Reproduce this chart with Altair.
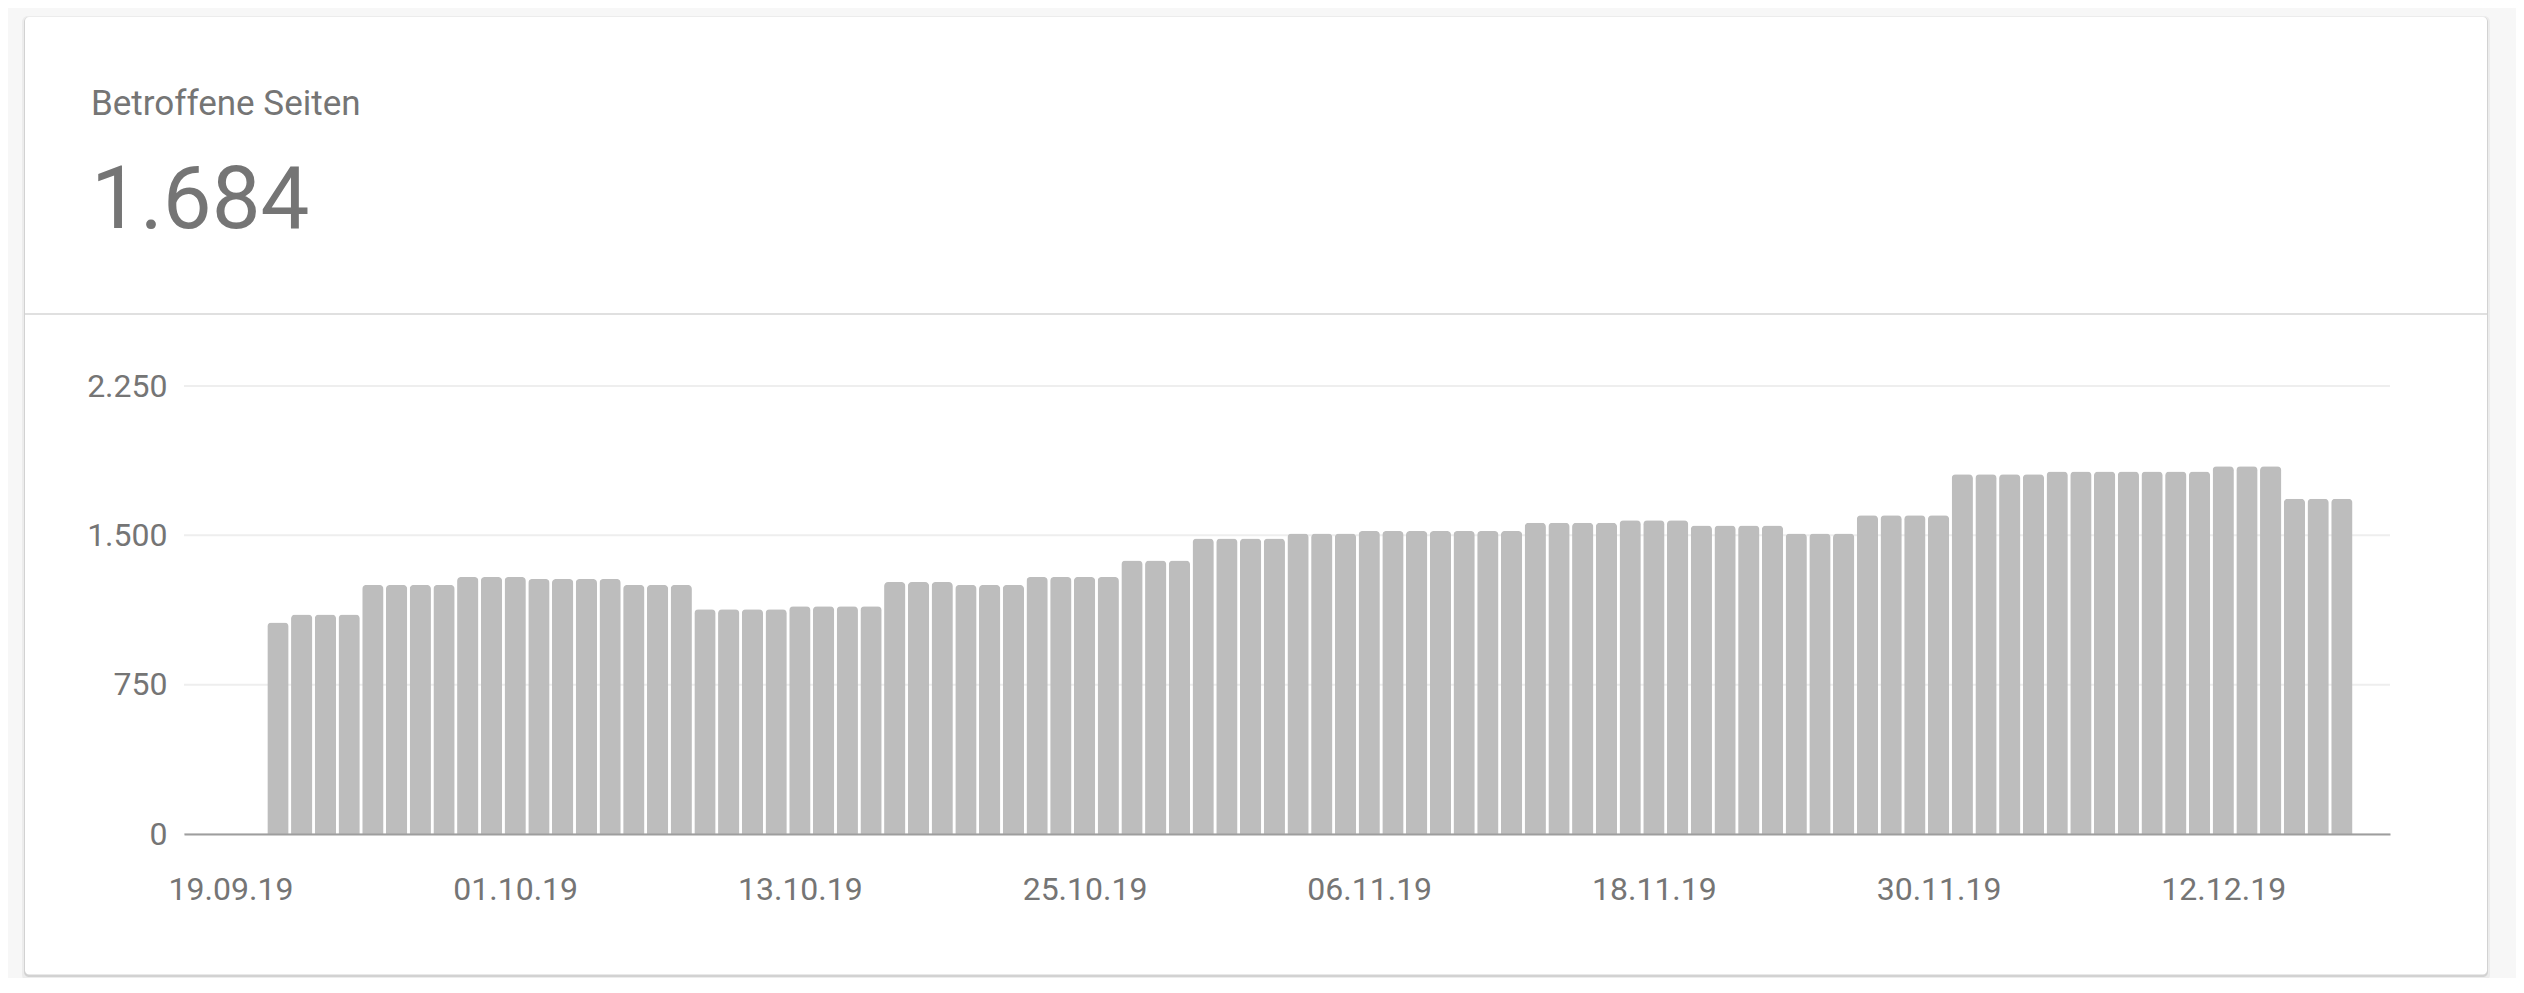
import altair as alt
import pandas as pd

# daily counts of affected pages, 21.09.19 - 17.12.19
dates = pd.date_range("2019-09-21", "2019-12-17", freq="D").strftime("%Y-%m-%d").tolist()
pages = (
    [1062] + [1102] * 3 + [1251] * 4 + [1291] * 3 + [1281] * 4 + [1251] * 3
    + [1129] * 4 + [1144] * 4 + [1265] * 3 + [1251] * 3 + [1291] * 4 + [1373] * 3
    + [1484] * 4 + [1509] * 3 + [1522] * 7 + [1563] * 4 + [1576] * 3 + [1549] * 4
    + [1509] * 3 + [1601] * 4 + [1807] * 4 + [1820] * 7 + [1847] * 3 + [1684] * 3
)
y_ticks = [0, 750, 1500, 2250]
x_ticks = ["2019-09-19", "2019-10-01", "2019-10-13", "2019-10-25",
           "2019-11-06", "2019-11-18", "2019-11-30", "2019-12-12"]
card_title = "Betroffene Seiten"
card_value = "1.684"

GREY_TXT = "#757575"
FONT = "Roboto"


def utc(s, h=0, m=0):
    d = pd.Timestamp(s)
    return alt.DateTime(year=d.year, month=d.month, date=d.day, hours=h, minutes=m, utc=True)


x_scale = alt.Scale(type="utc", domain=[utc("2019-09-17", 6), utc("2019-12-18", 19, 40)])
y_scale = alt.Scale(domain=[0, 2250], nice=False)

y_axis = alt.Axis(values=y_ticks,
                  labelExpr="replace(format(datum.value, ','), ',', '.')",
                  labelFontSize=32, labelColor=GREY_TXT, labelFont=FONT,
                  labelPadding=17, ticks=False, tickSize=0, grid=False,
                  domain=False, zindex=1)

df = pd.DataFrame({"date": dates, "pages": pages})
grid_df = pd.DataFrame({"pages": y_ticks})
one = pd.DataFrame({"k": [0]})

# card with a soft shadow
halo = alt.Chart(one).mark_rect(color="#ececec", cornerRadius=6).encode(
    x=alt.value(-162), x2=alt.value(2306), y=alt.value(-370), y2=alt.value(595))
shadow = alt.Chart(one).mark_rect(color="#d2d2d2", cornerRadius=5).encode(
    x=alt.value(-160), x2=alt.value(2304), y=alt.value(-369), y2=alt.value(591))
card = alt.Chart(one).mark_rect(color="white", cornerRadius=4).encode(
    x=alt.value(-159), x2=alt.value(2303), y=alt.value(-369), y2=alt.value(588.5))
divider = alt.Chart(one).mark_rule(color="#e0e0e0", strokeWidth=2).encode(
    x=alt.value(-159), x2=alt.value(2303), y=alt.value(-72))

title = alt.Chart(one).mark_text(
    align="left", baseline="alphabetic", fontSize=35, color=GREY_TXT, font=FONT
).encode(x=alt.value(-93), y=alt.value(-271), text=alt.value(card_title))
number = alt.Chart(one).mark_text(
    align="left", baseline="alphabetic", fontSize=87, color=GREY_TXT, font=FONT
).encode(x=alt.value(-93), y=alt.value(-158), text=alt.value(card_value))

grid = alt.Chart(grid_df).mark_rule(color="#eeeeee", strokeWidth=2).encode(
    y=alt.Y("pages:Q", scale=y_scale, title=None, axis=y_axis))

bars = alt.Chart(df).mark_bar(
    width=21.3, color="#bdbdbd", cornerRadiusTopLeft=4, cornerRadiusTopRight=4
).encode(
    x=alt.X("date:T", scale=x_scale, title=None,
            axis=alt.Axis(values=[utc(t) for t in x_ticks], format="%d.%m.%y",
                          labelFontSize=32, labelColor=GREY_TXT, labelFont=FONT,
                          labelPadding=40, labelFlush=False, labelOverlap=False,
                          ticks=False, tickSize=0, grid=False, domain=True,
                          domainColor="#9e9e9e", domainWidth=2, zindex=1)),
    y=alt.Y("pages:Q", scale=y_scale, title=None, axis=y_axis),
)

chart = alt.layer(halo, shadow, card, divider, title, number, grid, bars).properties(
    width=2206, height=448,
    autosize=alt.AutoSizeParams(type="none"),
    padding={"left": 176, "top": 378, "right": 126, "bottom": 144},
    background="#f7f7f7",
).configure_view(stroke="transparent")

chart.save("out.html", embed_options={"renderer": "svg", "actions": False})
